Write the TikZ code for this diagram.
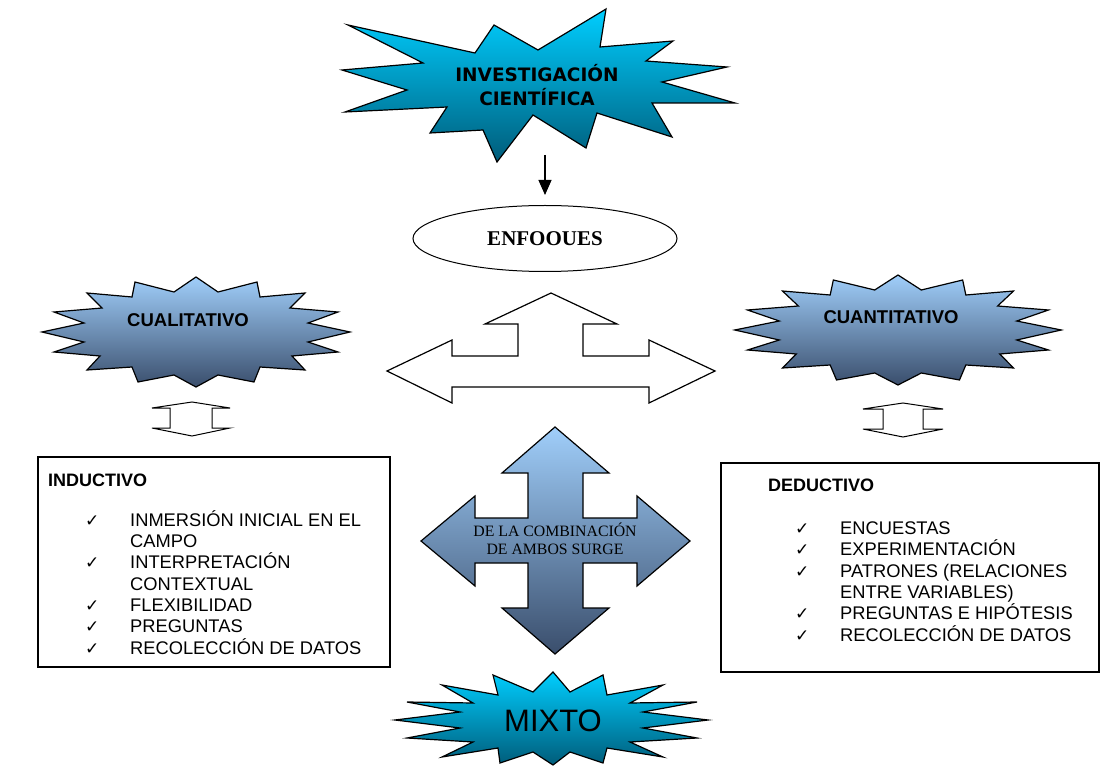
\documentclass[tikz,border=0pt]{standalone}
\usepackage{fontspec}
\setmainfont{Liberation Sans}
\newfontfamily\timesfont{Liberation Serif}
\newfontfamily\burstfont{DejaVu Sans}
\newfontfamily\symfont{DejaVu Sans}
\usetikzlibrary{arrows.meta, shapes.geometric, positioning}

\definecolor{cyantop}{RGB}{0,206,255}
\definecolor{cyanbot}{RGB}{0,92,122}
\definecolor{slatetop}{RGB}{160,206,250}
\definecolor{slatebot}{RGB}{58,78,108}

\newcommand{\chk}{\makebox[45pt][l]{\symfont\fontsize{17}{17}\selectfont ✓}}
\newcommand{\nochk}{\hspace*{45pt}}

\begin{document}
\begin{tikzpicture}[x=1pt, y=1pt,
  hiburst/.style={draw, line width=1.2pt, top color=cyantop, bottom color=cyanbot},
  loburst/.style={draw, line width=1.2pt, top color=slatetop, bottom color=slatebot},
  hollow/.style={draw, line width=1.2pt, fill=white},
  panel/.style={draw, line width=1.3pt, inner sep=0pt},
  title/.style={anchor=base west, inner sep=0pt, font=\bfseries\fontsize{18}{18}\selectfont},
  items/.style={anchor=base west, inner sep=0pt, align=left, font=\fontsize{18.3}{21.3}\selectfont}
]
  \useasboundingbox (0,0) rectangle (1101,-767);

  % top burst
  \draw[hiburst] (348,-25) -- (475,-53) -- (494,-25) -- (538,-50) -- (606,-9) -- (600,-47)
    -- (673,-41) -- (646,-61) -- (727,-67) -- (662,-82) -- (735,-103) -- (652,-103)
    -- (672,-137) -- (597,-113) -- (586,-148) -- (533,-115) -- (497,-162) -- (483,-130)
    -- (430,-133) -- (447,-107) -- (345,-112) -- (407,-90) -- (342,-70) -- (423,-63) -- cycle;
  \node[font=\burstfont\bfseries\fontsize{18.5}{24}\selectfont, align=center] (inv) at (537,-85)
    {INVESTIGACIÓN\\CIENTÍFICA};
  \coordinate (invtip) at (545,-155);

  \node[ellipse, draw, line width=1pt, minimum width=264pt, minimum height=66pt, inner sep=0pt,
        font=\timesfont\bfseries\fontsize{21}{21}\selectfont] (enf) at (545,-238.5) {ENFOOUES};
  \draw[-{Triangle[width=13pt,length=15pt]}, line width=1.2pt] (invtip) -- ([yshift=10pt]enf.north);

  % three-way arrow
  \draw[hollow] (387,-371) -- (452,-340) -- (452,-356) -- (518,-356) -- (518,-324) -- (485,-324)
    -- (551,-293) -- (617,-324) -- (583,-324) -- (583,-356) -- (649,-356) -- (649,-340)
    -- (715,-371) -- (649,-403) -- (649,-387) -- (452,-387) -- (452,-403) -- cycle;

  % side bursts
  \begin{scope}[shift={(196,-332)}]
    \draw[loburst] (0,55) -- (22,40) -- (61,50) -- (64,35) -- (109,39) -- (94,24) -- (142,20)
      -- (112,9) -- (154,0) -- (112,-10) -- (142,-20) -- (96,-24) -- (109,-38) -- (64,-35)
      -- (58,-50) -- (22,-43) -- (0,-55) -- (-22,-43) -- (-58,-50) -- (-64,-35) -- (-109,-38)
      -- (-96,-24) -- (-142,-20) -- (-112,-10) -- (-154,0) -- (-112,9) -- (-142,20) -- (-94,24)
      -- (-109,39) -- (-64,35) -- (-61,50) -- (-22,40) -- cycle;
  \end{scope}
  \begin{scope}[shift={(898,-330)}, xscale=1.06]
    \draw[loburst] (0,55) -- (22,40) -- (61,50) -- (64,35) -- (109,39) -- (94,24) -- (142,20)
      -- (112,9) -- (154,0) -- (112,-10) -- (142,-20) -- (96,-24) -- (109,-38) -- (64,-35)
      -- (58,-50) -- (22,-43) -- (0,-55) -- (-22,-43) -- (-58,-50) -- (-64,-35) -- (-109,-38)
      -- (-96,-24) -- (-142,-20) -- (-112,-10) -- (-154,0) -- (-112,9) -- (-142,20) -- (-94,24)
      -- (-109,39) -- (-64,35) -- (-61,50) -- (-22,40) -- cycle;
  \end{scope}
  \node[font=\bfseries\fontsize{18.5}{18.5}\selectfont] (cual) at (188,-320) {CUALITATIVO};
  \node[font=\bfseries\fontsize{18.5}{18.5}\selectfont] (cuan) at (891,-317) {CUANTITATIVO};

  % small double arrows
  \draw[hollow, line width=1pt] (192,-402) -- (230,-408) -- (212,-408) -- (212,-428) -- (230,-428)
    -- (192,-436) -- (152,-428) -- (170,-428) -- (170,-408) -- (152,-408) -- cycle;
  \draw[hollow, line width=1pt] (903,-403) -- (943,-409) -- (923,-409) -- (923,-429) -- (943,-429)
    -- (903,-437) -- (863,-429) -- (883,-429) -- (883,-409) -- (863,-409) -- cycle;

  % left box
  \node[panel, minimum width=352pt, minimum height=210pt] (ind) at (214,-562) {};
  \node[title] (indt) at (48,-486) {INDUCTIVO};
  \node[items] (indl) at (85,-654) {\chk INMERSIÓN INICIAL EN EL\\ \nochk CAMPO\\
    \chk INTERPRETACIÓN\\ \nochk CONTEXTUAL\\ \chk FLEXIBILIDAD\\ \chk PREGUNTAS\\
    \chk RECOLECCIÓN DE DATOS};

  % right box
  \node[panel, minimum width=378pt, minimum height=209pt] (ded) at (910,-567.5) {};
  \node[title] (dedt) at (768,-491) {DEDUCTIVO};
  \node[items] (dedl) at (795,-641) {\chk ENCUESTAS\\ \chk EXPERIMENTACIÓN\\
    \chk PATRONES (RELACIONES\\ \nochk ENTRE VARIABLES)\\ \chk PREGUNTAS E HIPÓTESIS\\
    \chk RECOLECCIÓN DE DATOS};

  % cross
  \draw[loburst] (555,-427) -- (609,-473) -- (583,-473) -- (583,-518) -- (637,-518) -- (637,-496)
    -- (690,-541) -- (637,-586) -- (637,-563) -- (583,-563) -- (583,-608) -- (609,-608)
    -- (555,-654) -- (502,-608) -- (528,-608) -- (528,-563) -- (475,-563) -- (475,-586)
    -- (421,-541) -- (475,-496) -- (475,-518) -- (528,-518) -- (528,-473) -- (502,-473) -- cycle;
  \node[font=\timesfont\fontsize{15.8}{18}\selectfont, align=center] (comb) at (555,-539)
    {DE LA COMBINACIÓN\\DE AMBOS SURGE};

  % bottom burst
  \draw[hiburst] (553,-672) -- (570,-692) -- (603,-675) -- (607,-695) -- (663,-685) -- (630,-703)
    -- (697,-702) -- (643,-712) -- (708,-720) -- (643,-728) -- (697,-738) -- (630,-742)
    -- (663,-757) -- (607,-748) -- (603,-763) -- (570,-752) -- (553,-765) -- (533,-752)
    -- (500,-763) -- (498,-748) -- (442,-757) -- (473,-742) -- (407,-738) -- (460,-728)
    -- (395,-720) -- (460,-712) -- (407,-702) -- (473,-703) -- (442,-685) -- (498,-695)
    -- (493,-675) -- (533,-692) -- cycle;
  \node[font=\fontsize{31}{31}\selectfont] (mix) at (553,-721) {MIXTO};
\end{tikzpicture}
\end{document}
